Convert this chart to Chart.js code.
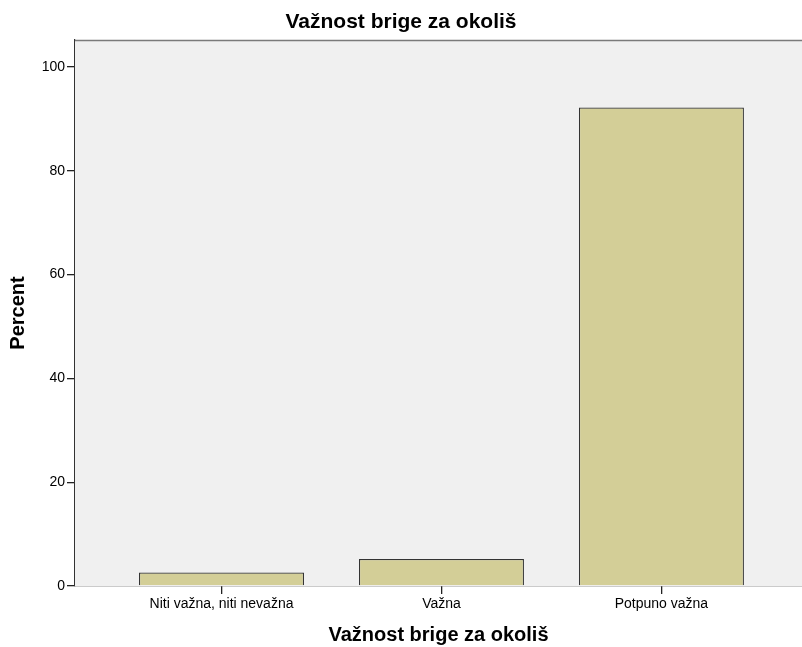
<!DOCTYPE html>
<html>
<head>
<meta charset="utf-8">
<script src="https://cdn.jsdelivr.net/npm/chart.js@4/dist/chart.umd.min.js"></script>
<style>
  html, body { margin: 0; padding: 0; background: #fff; }
  canvas { display: block; }
</style>
</head>
<body>
<canvas id="chart" width="802" height="647"></canvas>
<script>
// ── Data ──
const categories = ['Niti važna, niti nevažna', 'Važna', 'Potpuno važna'];
const percents   = [2.6, 5.2, 92.2];
const yTicks     = [0, 20, 40, 60, 80, 100];

const FONT = "'Liberation Sans', Arial, sans-serif";

// plot background + grey top frame line
const plotFrame = {
  id: 'plotFrame',
  beforeDatasetsDraw(chart) {
    const { ctx, chartArea: a } = chart;
    ctx.save();
    ctx.fillStyle = '#F0F0F0';
    ctx.fillRect(a.left, a.top, a.right - a.left, a.bottom - a.top);
    ctx.strokeStyle = '#7a7a7a';
    ctx.lineWidth = 1.5;
    ctx.beginPath();
    ctx.moveTo(a.left, a.top + 0.5);
    ctx.lineTo(a.right, a.top + 0.5);
    ctx.stroke();
    ctx.restore();
  }
};

new Chart(document.getElementById('chart'), {
  type: 'bar',
  data: {
    datasets: [{
      data: percents.map((v, i) => ({ x: i + 1, y: v })),
      backgroundColor: '#D3CE97',
      borderColor: '#333',
      borderWidth: 1.2,
      categoryPercentage: 0.75,
      barPercentage: 1.0
    }]
  },
  options: {
    responsive: false,
    animation: false,
    layout: { padding: 0 },
    plugins: {
      legend: { display: false },
      tooltip: { enabled: false },
      title: {
        display: true,
        text: 'Važnost brige za okoliš',
        color: '#000',
        font: { family: FONT, size: 21, weight: 'bold' },
        padding: { top: 9.4, bottom: 5.4 }
      }
    },
    scales: {
      x: {
        type: 'linear',
        offset: false,
        min: 0.334,
        max: 3.639,
        afterBuildTicks: axis => {
          axis.ticks = categories.map((c, i) => ({ value: i + 1 }));
        },
        afterFit: axis => { axis.height = 61; },
        ticks: {
          color: '#000',
          font: { family: FONT, size: 14 },
          padding: 2,
          maxRotation: 0,
          autoSkip: false,
          callback: v => categories[Math.round(v) - 1]
        },
        grid: { offset: false, drawOnChartArea: false, tickLength: 8, color: '#222', lineWidth: 1.3 },
        border: { color: '#333', width: 1.2 },
        title: {
          display: true,
          text: 'Važnost brige za okoliš',
          color: '#000',
          font: { family: FONT, size: 20, weight: 'bold' },
          padding: { top: 0, bottom: 0 }
        }
      },
      y: {
        min: 0,
        max: 105.2,
        afterBuildTicks: axis => {
          axis.ticks = yTicks.map(v => ({ value: v }));
        },
        afterFit: axis => { axis.width = 75; },
        ticks: {
          color: '#000',
          font: { family: FONT, size: 14 },
          padding: 2
        },
        grid: { drawOnChartArea: false, tickLength: 8, color: '#222', lineWidth: 1.3 },
        border: { color: '#333', width: 1.2 },
        title: {
          display: true,
          text: 'Percent',
          color: '#000',
          font: { family: FONT, size: 20, weight: 'bold' },
          padding: { top: 6.5, bottom: 0 }
        }
      }
    }
  },
  plugins: [plotFrame]
});
</script>
</body>
</html>
